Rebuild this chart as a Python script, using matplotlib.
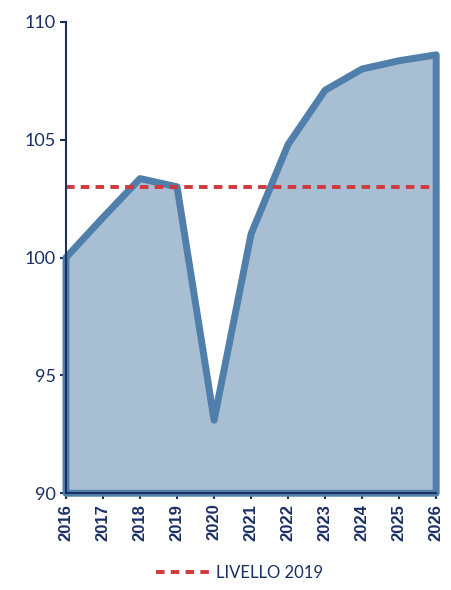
import matplotlib
matplotlib.use("Agg")
import matplotlib.pyplot as plt
from matplotlib.lines import Line2D

years = [2016, 2017, 2018, 2019, 2020, 2021, 2022, 2023, 2024, 2025, 2026]
values = [100.0, 101.7, 103.35, 103.0, 93.1, 101.0, 104.8, 107.1, 108.0, 108.35, 108.6]
level_2019 = 103.0
yticks = [90, 95, 100, 105, 110]
legend_label = "LIVELLO 2019"

navy = "#1b2f63"
fig = plt.figure(figsize=(4.52, 5.90), dpi=100)
ax = fig.add_axes([0.146, 0.164, 0.819, 0.799])

xs = [years[0]] + years + [years[-1]]
ys = [90] + values + [90]
ax.fill(xs, ys, facecolor="#a8bed3", edgecolor="#4f7faa", linewidth=5,
        joinstyle="round", clip_on=False, zorder=2)
ax.plot([years[0], years[-1]], [level_2019, level_2019], color="#d0393d",
        linestyle=(0, (2.2, 1.6)), linewidth=2.8, zorder=3, clip_on=False)

ax.set_xlim(2016, 2026)
ax.set_ylim(90, 110)
ax.set_yticks(yticks)
ax.set_xticks(years)
ax.set_xticklabels([str(y) for y in years], rotation=90, fontweight="bold",
                   fontsize=12, color=navy, family="Liberation Sans")
ax.set_yticklabels([str(v) for v in yticks], fontsize=13, color=navy, family="Lato")
for s in ["top", "right"]:
    ax.spines[s].set_visible(False)
for s in ["left", "bottom"]:
    ax.spines[s].set_color(navy)
    ax.spines[s].set_linewidth(1.5)
    ax.spines[s].set_zorder(4)
ax.tick_params(axis="both", direction="out", length=4, width=1.5, color=navy)

handle = Line2D([], [], color="#d0393d", linestyle=(0, (2.2, 1.6)), linewidth=2.8)
fig.legend([handle], [legend_label], loc="center", bbox_to_anchor=(0.53, 0.029),
           frameon=False, prop={"family": "Lato", "size": 12}, labelcolor=navy,
           handlelength=3.3, handletextpad=0.3)

fig.savefig("out.png", dpi=100)
